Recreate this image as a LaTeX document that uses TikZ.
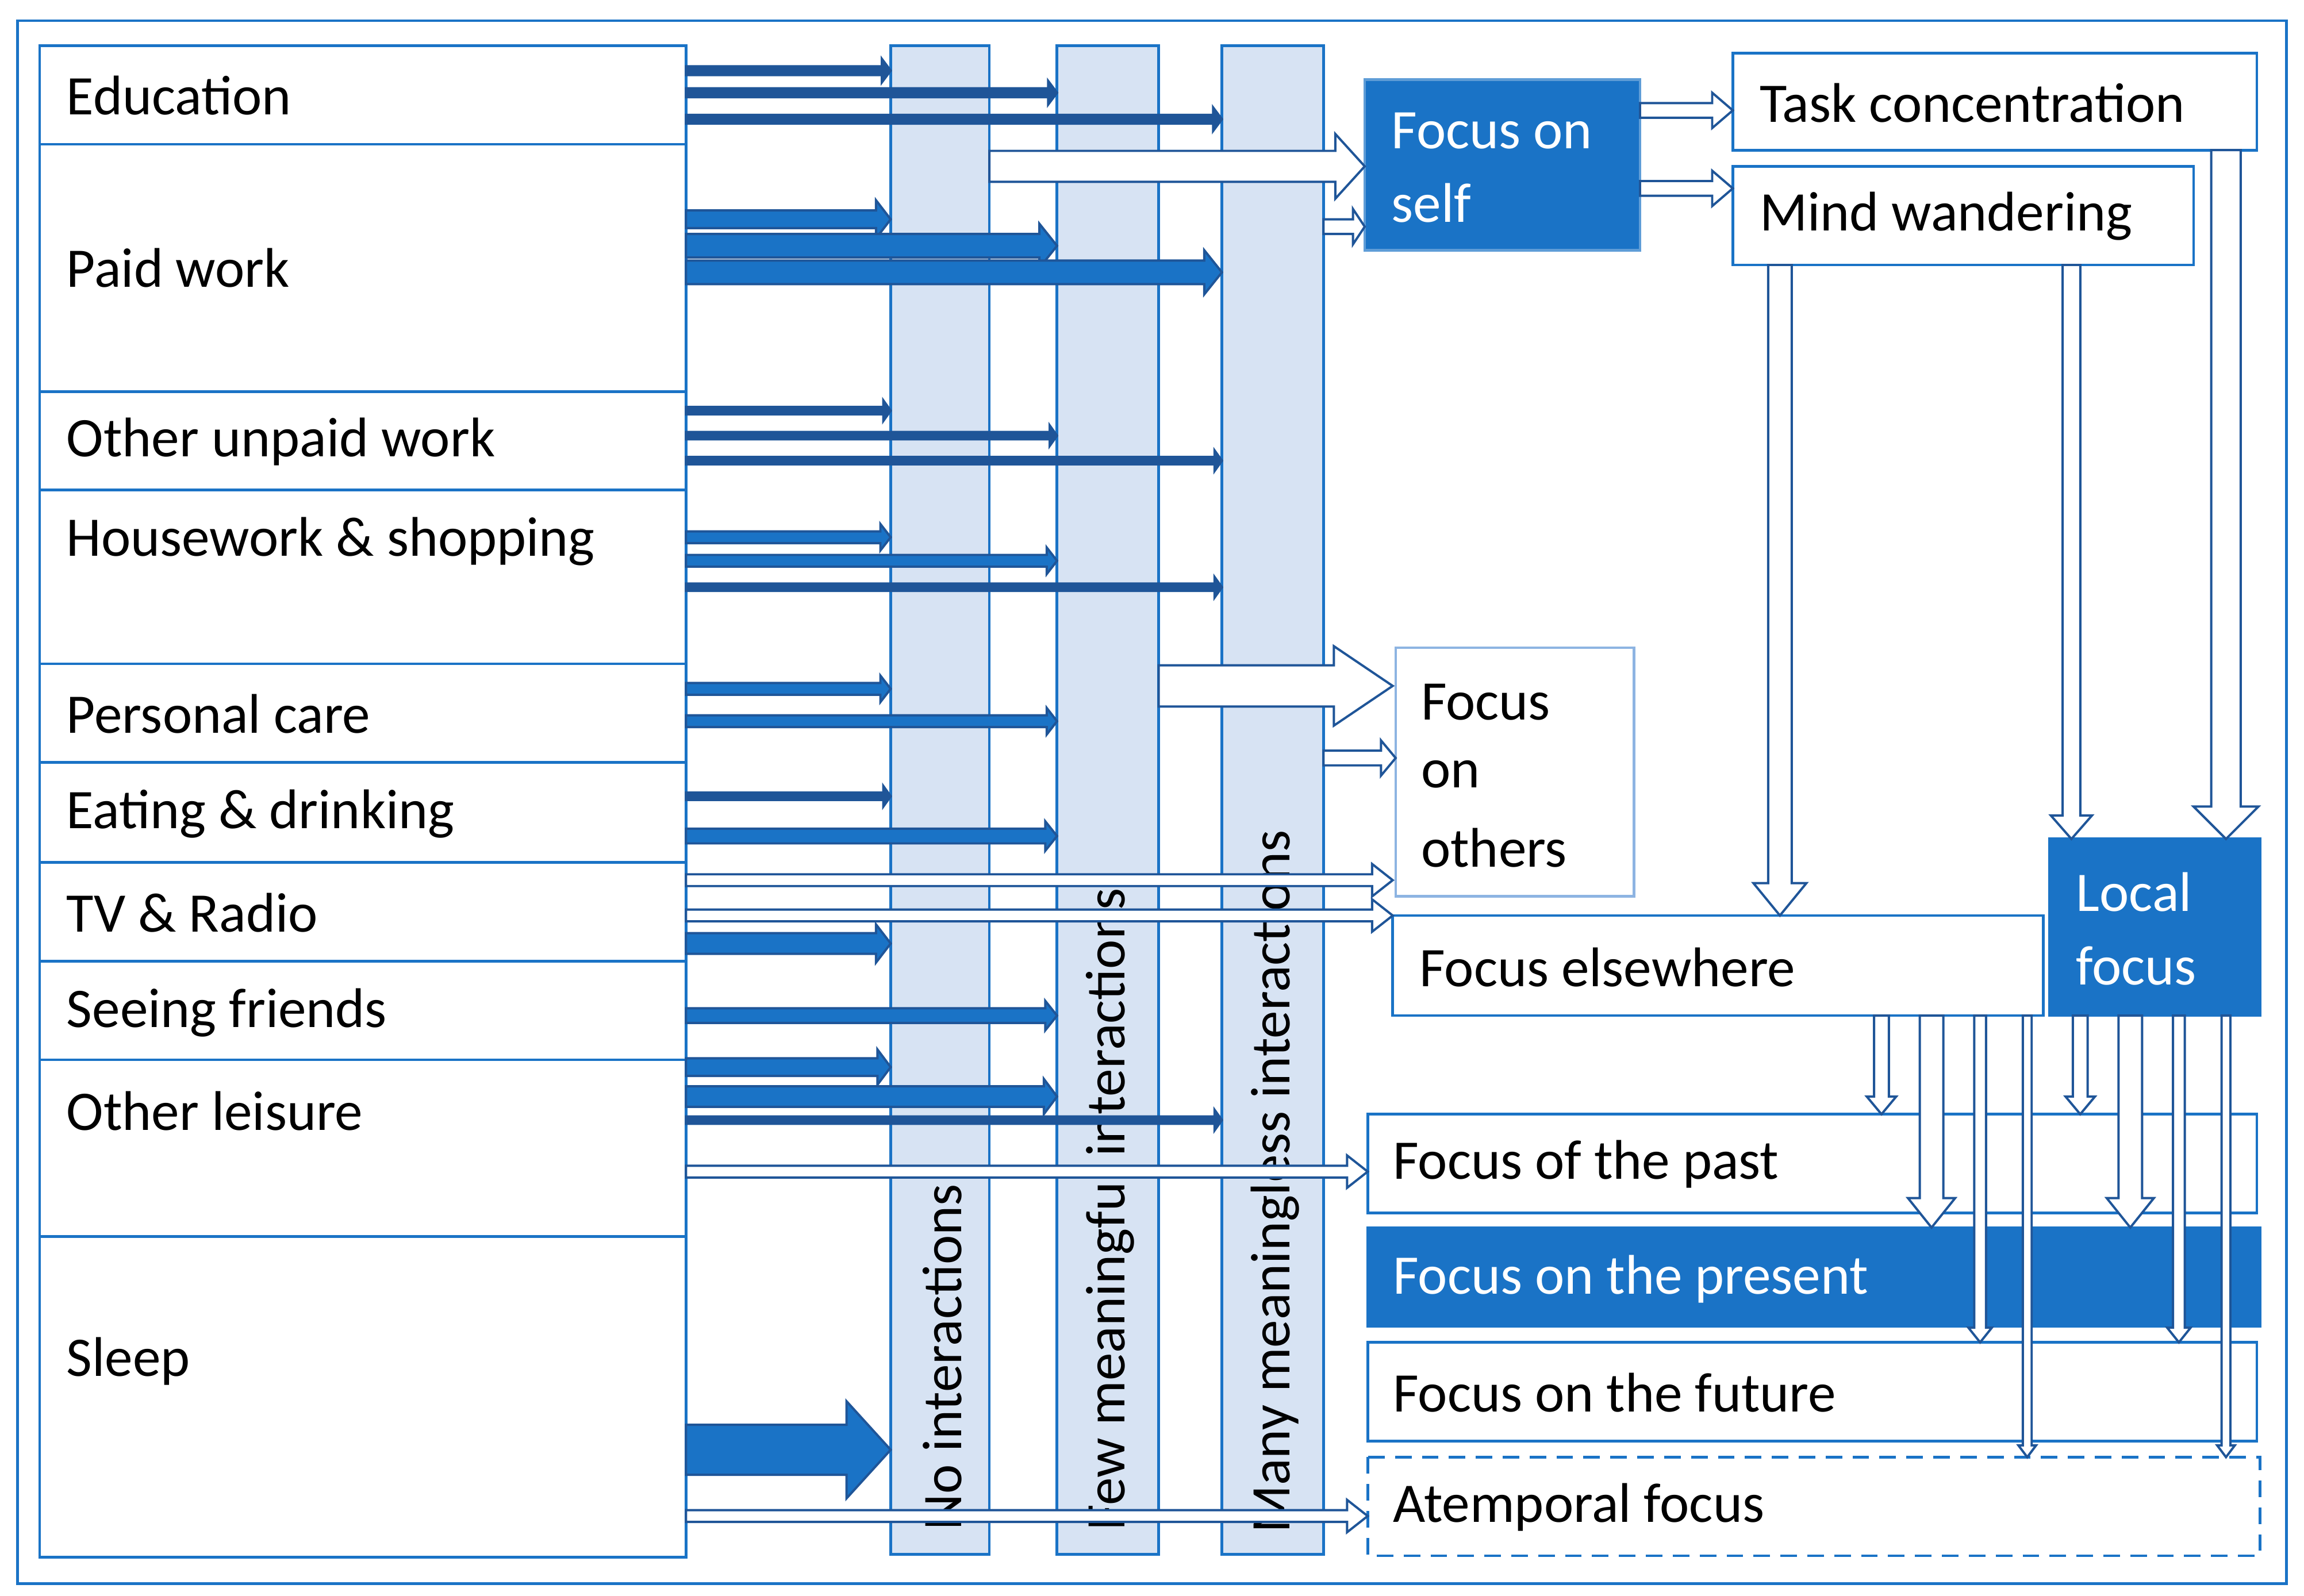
\documentclass[tikz,border=0pt]{standalone}
\usepackage{fontspec}
\setmainfont{Carlito}
\definecolor{bl}{HTML}{1A73C6}
\definecolor{dk}{HTML}{1F5598}
\definecolor{lt}{HTML}{D7E3F3}
\definecolor{pb}{HTML}{8DB4E2}
\newcommand{\harr}[7]{\draw[dk,line width=1.1pt,fill=#7] (#1,#3-#4)--(#2-#6,#3-#4)--(#2-#6,#3-#5)--(#2,#3)--(#2-#6,#3+#5)--(#2-#6,#3+#4)--(#1,#3+#4)--cycle;}
\newcommand{\varr}[7]{\draw[dk,line width=1.1pt,fill=#7] (#3-#4,#1)--(#3-#4,#2-#6)--(#3-#5,#2-#6)--(#3,#2)--(#3+#5,#2-#6)--(#3+#4,#2-#6)--(#3+#4,#1)--cycle;}
\begin{document}
\begin{tikzpicture}[x=0.025cm,y=-0.025cm,
  box/.style={draw=bl,line width=1.3pt,fill=white},
  fbox/.style={draw=bl!70!white,line width=1.3pt,fill=bl},
  col/.style={draw=bl,line width=1.3pt,fill=lt},
  lbl/.style={font=\fontsize{27}{32}\selectfont,anchor=west,inner sep=0},
  wl/.style={lbl,text=white}]
\useasboundingbox (0,0) rectangle (1565,1084);
\draw[bl,line width=1.3pt] (12,14) rectangle (1553,1076);
% left boxes
\foreach \a/\b in {31/98,98/266,266/333,333/451,451/518,518/586,586/653,653/720,720/840,840/1058}
  \draw[box] (27,\a) rectangle (466,\b);
\node[lbl] (ed) at (45,65) {Education};
\node[lbl] (pw) at (45,182) {Paid work};
\node[lbl] (ou) at (45,300) {Other unpaid work};
\node[lbl] (hw) at (45,368) {Housework \& shopping};
\node[lbl] (pc) at (45,485) {Personal care};
\node[lbl] (ea) at (45,553) {Eating \& drinking};
\node[lbl] (tv) at (45,620) {TV \& Radio};
\node[lbl] (sf) at (45,688) {Seeing friends};
\node[lbl] (ol) at (45,755) {Other leisure};
\node[lbl] (sl) at (45,925) {Sleep};
% columns
\draw[col] (605,31) rectangle (672,1056);
\draw[col] (718,31) rectangle (787,1056);
\draw[col] (830,31) rectangle (899,1056);
\node[lbl,rotate=90] (c1) at (640,1040) {No interactions};
\node[lbl,rotate=90] (c2) at (754,1040) {Few meaningful interactions};
\node[lbl,rotate=90] (c3) at (866,1042) {Many meaningless interactions};
% right boxes
\draw[fbox] (927,54) rectangle (1114,170);
\node[wl] (fs1) at (945,89) {Focus on};
\node[wl] (fs2) at (945,138) {self};
\draw[box] (1177,36) rectangle (1533,102);
\node[lbl] (tc) at (1195,70) {Task concentration};
\draw[box] (1177,113) rectangle (1490,180);
\node[lbl] (mw) at (1195,147) {Mind wandering};
\draw[draw=pb,line width=1.3pt,fill=white] (948,440) rectangle (1110,609);
\node[lbl] (fo1) at (965,477) {Focus};
\node[lbl] (fo2) at (965,526) {on};
\node[lbl] (fo3) at (965,576) {others};
\draw[box] (946,622) rectangle (1388,690);
\node[lbl] (fe) at (964,657) {Focus elsewhere};
\draw[fbox,draw=bl] (1392,570) rectangle (1535,690);
\node[wl] (lf1) at (1410,606) {Local};
\node[wl] (lf2) at (1410,656) {focus};
\draw[box] (929,757) rectangle (1533,824);
\node[lbl] (fp) at (946,791) {Focus of the past};
\draw[fbox,draw=bl] (929,834) rectangle (1535,901);
\node[wl] (fpr) at (946,869) {Focus on the present};
\draw[box] (929,912) rectangle (1533,979);
\node[lbl] (ff) at (946,946) {Focus on the future};
\draw[box,dashed,dash pattern=on 8pt off 5pt] (929,990) rectangle (1535,1057);
\node[lbl] (af) at (946,1024) {Atemporal focus};
% arrows from activities
\harr{466}{605}{48}{3}{8}{6}{dk}
\harr{466}{718}{63}{3}{8}{6}{dk}
\harr{466}{830}{81}{3}{8}{6}{dk}
\harr{466}{605}{149}{6}{13}{10}{bl}
\harr{466}{718}{167}{8}{15}{12}{bl}
\harr{466}{830}{185}{8}{15}{12}{bl}
\harr{466}{605}{279}{2.5}{7}{5}{dk}
\harr{466}{718}{296}{2.5}{7}{5}{dk}
\harr{466}{830}{313}{2.5}{7}{5}{dk}
\harr{466}{605}{365}{4}{9}{7}{bl}
\harr{466}{718}{381}{4}{9}{7}{bl}
\harr{466}{830}{399}{2.5}{7}{5}{dk}
\harr{466}{605}{468}{4}{9}{7}{bl}
\harr{466}{718}{490}{4}{9}{7}{bl}
\harr{466}{605}{541}{2.5}{7}{5}{dk}
\harr{466}{718}{568}{5}{10}{8}{bl}
\harr{466}{946}{598}{4}{11}{14}{white}
\harr{466}{946}{622}{4}{11}{14}{white}
\harr{466}{605}{641}{7}{13}{10}{bl}
\harr{466}{718}{690}{5}{10}{8}{bl}
\harr{466}{605}{725}{6}{12}{9}{bl}
\harr{466}{718}{745}{7}{12}{9}{bl}
\harr{466}{830}{761}{2.5}{7}{5}{dk}
\harr{466}{929}{796}{4}{11}{14}{white}
\harr{466}{605}{985}{17}{33}{30}{bl}
\harr{466}{929}{1030}{4}{11}{14}{white}
% from columns
\harr{672}{927}{113}{10.5}{22}{20}{white}
\harr{899}{927}{154}{5}{12}{8}{white}
\harr{787}{946}{466}{14}{27}{40}{white}
\harr{899}{948}{515}{5}{12}{10}{white}
\harr{1114}{1177}{75}{5}{12}{14}{white}
\harr{1114}{1177}{128}{5}{12}{14}{white}
% downward
\varr{180}{622}{1209}{8}{18}{22}{white}
\varr{180}{570}{1407}{6}{14}{16}{white}
\varr{102}{570}{1512}{10}{22}{22}{white}
\varr{690}{757}{1278}{5}{10}{12}{white}
\varr{690}{834}{1312}{8}{16}{20}{white}
\varr{690}{912}{1345}{4}{8}{10}{white}
\varr{690}{990}{1377}{3}{6}{8}{white}
\varr{690}{757}{1413}{5}{10}{12}{white}
\varr{690}{834}{1447}{8}{16}{20}{white}
\varr{690}{912}{1480}{4}{8}{10}{white}
\varr{690}{990}{1512}{3}{6}{8}{white}
\end{tikzpicture}
\end{document}
